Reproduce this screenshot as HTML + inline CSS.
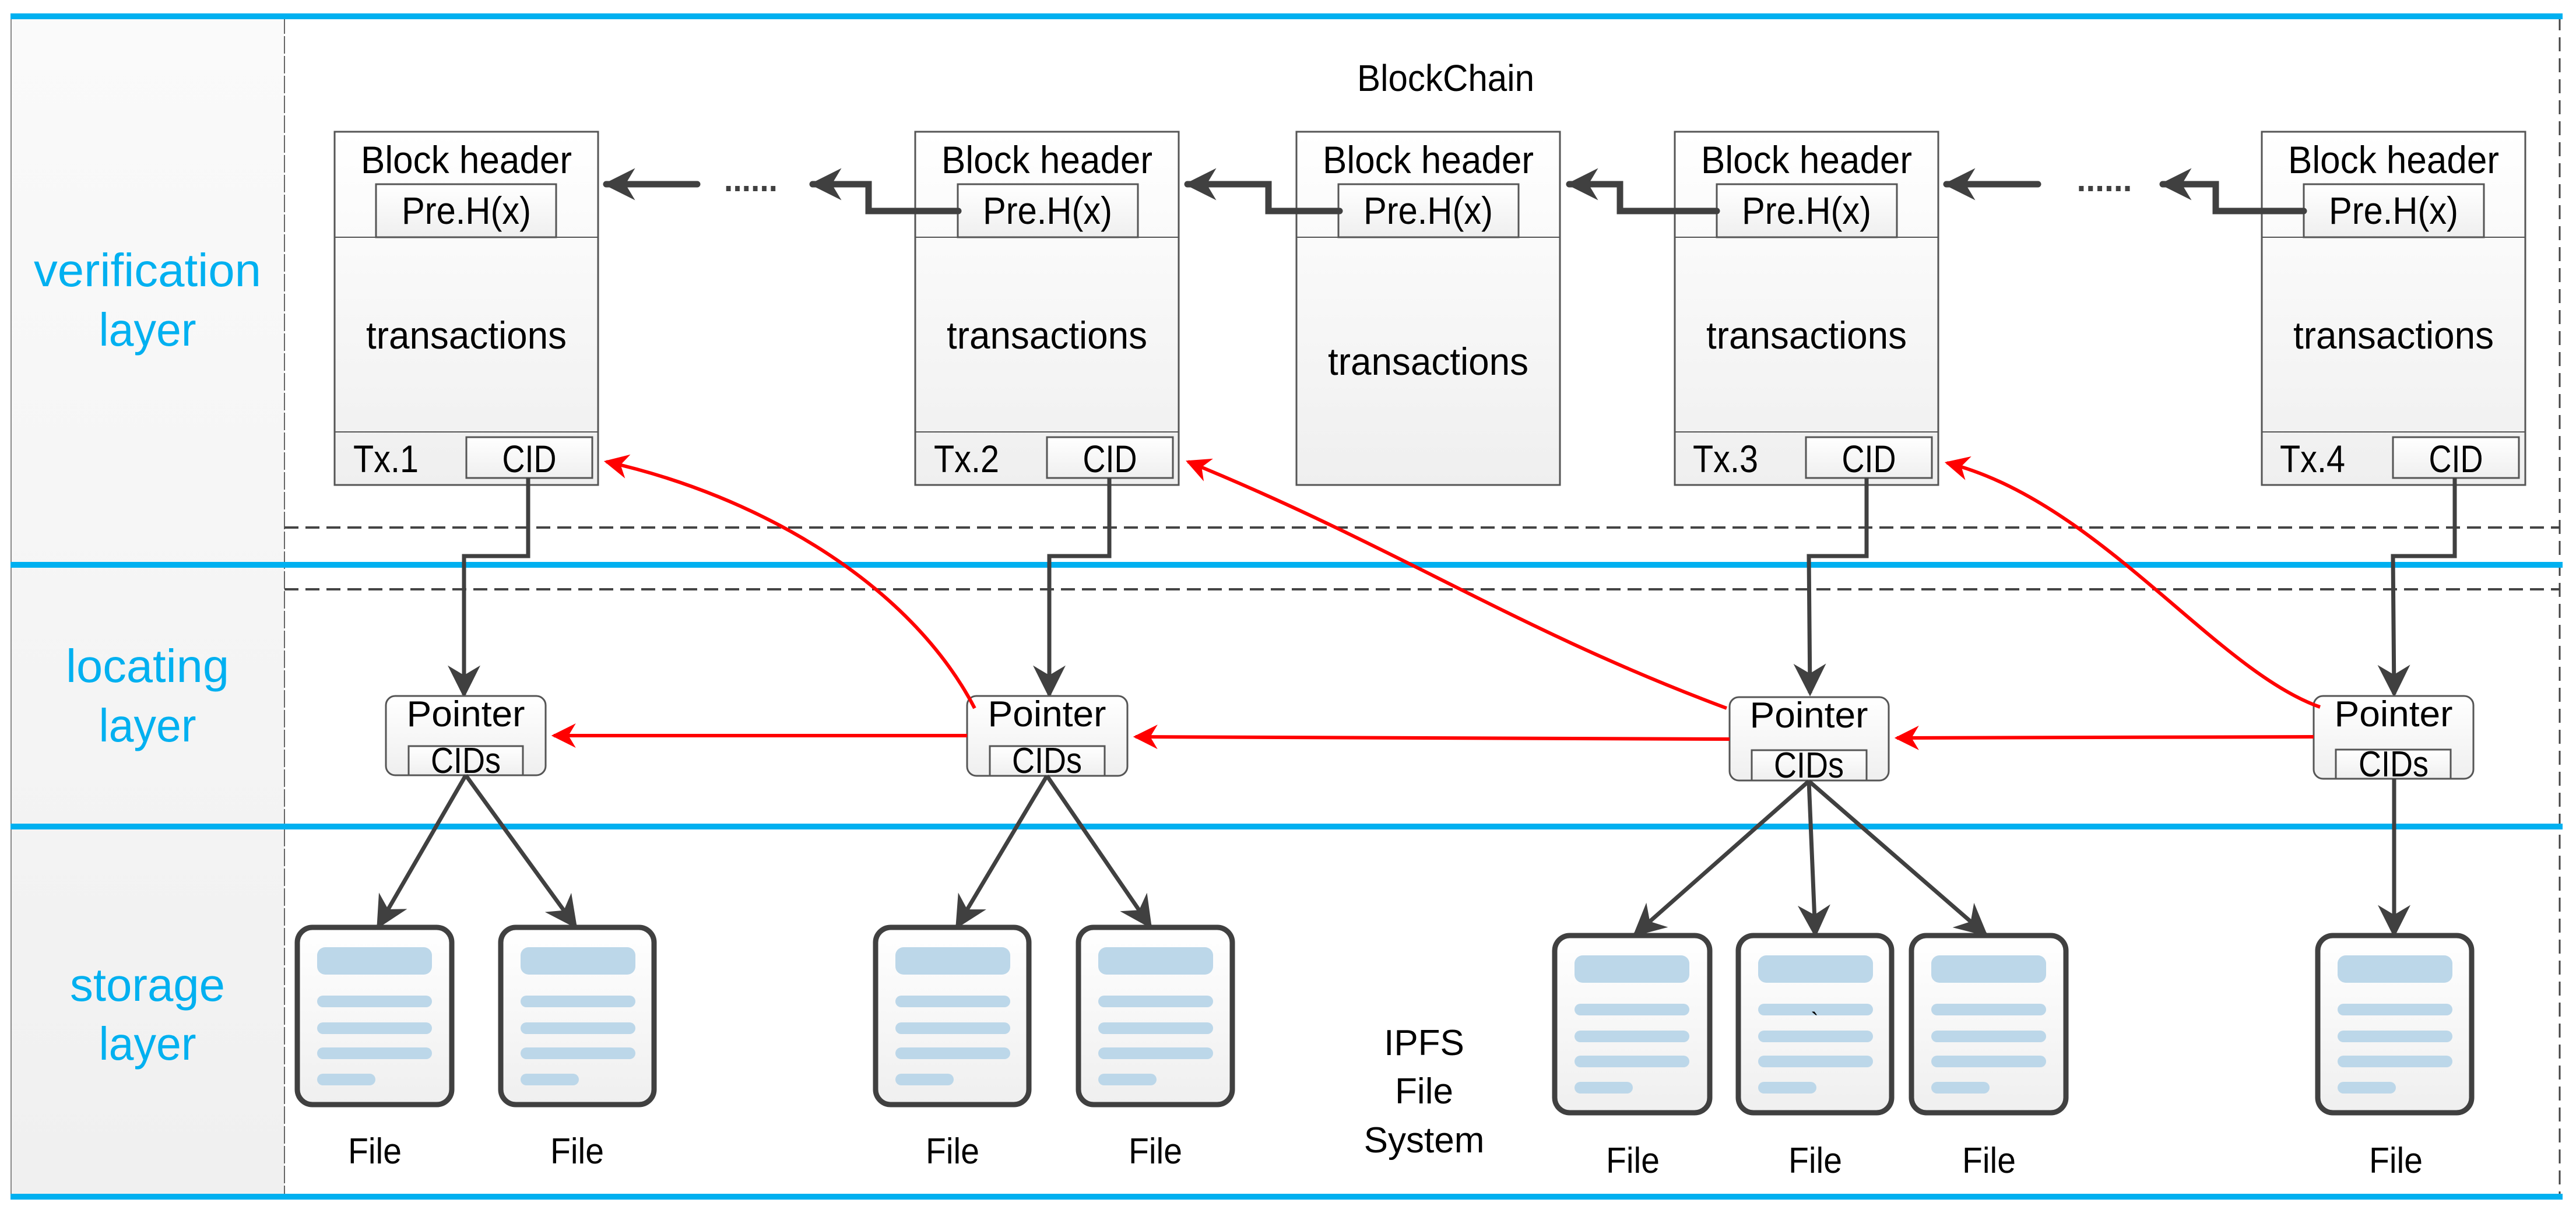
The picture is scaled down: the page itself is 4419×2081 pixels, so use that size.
<!DOCTYPE html>
<html><head><meta charset="utf-8"><style>
html,body{margin:0;padding:0;background:#fff}
svg{display:block}
text{font-family:"Liberation Sans",sans-serif}
</style></head><body>
<svg width="4419" height="2081" viewBox="0 0 4419 2081" xmlns="http://www.w3.org/2000/svg">
<defs>
<linearGradient id="g" x1="0" y1="0" x2="0" y2="1"><stop offset="0" stop-color="#ffffff"/><stop offset="1" stop-color="#efefef"/></linearGradient>
<linearGradient id="lc" x1="0" y1="0" x2="0" y2="1"><stop offset="0" stop-color="#fafafa"/><stop offset="1" stop-color="#f0f0f0"/></linearGradient>
<marker id="ad" viewBox="0 0 10 10" refX="9" refY="5" markerWidth="5" markerHeight="5" orient="auto" markerUnits="strokeWidth"><path d="M0,0 L10,5 L0,10 L3,5 z" fill="#404040"/></marker>
<marker id="ad2" viewBox="0 0 10 10" refX="9" refY="5" markerWidth="8" markerHeight="8" orient="auto" markerUnits="strokeWidth"><path d="M0,0 L10,5 L0,10 L3,5 z" fill="#404040"/></marker>
<marker id="ar" viewBox="0 0 10 10" refX="9" refY="5" markerWidth="7" markerHeight="7" orient="auto" markerUnits="strokeWidth"><path d="M0,0 L10,5 L0,10 L3,5 z" fill="#ff0000"/></marker>
</defs>

<rect x="18" y="28" width="470" height="2023" fill="url(#lc)"/>
<line x1="19" y1="28" x2="19" y2="2051" stroke="#888" stroke-width="2"/>
<line x1="488" y1="28" x2="488" y2="2051" stroke="#666" stroke-width="2" stroke-dasharray="30,4"/>
<line x1="4391" y1="28" x2="4391" y2="2051" stroke="#444" stroke-width="3" stroke-dasharray="24,12"/>
<line x1="488" y1="905" x2="4391" y2="905" stroke="#444" stroke-width="4" stroke-dasharray="24,12"/>
<line x1="488" y1="1011" x2="4391" y2="1011" stroke="#444" stroke-width="4" stroke-dasharray="24,12"/>

<g fill="#00b0f0" font-size="80" text-anchor="middle">
<text x="253" y="491" textLength="390" lengthAdjust="spacingAndGlyphs">verification</text>
<text x="253" y="593" textLength="167" lengthAdjust="spacingAndGlyphs">layer</text>
<text x="253" y="1170" textLength="280" lengthAdjust="spacingAndGlyphs">locating</text>
<text x="253" y="1272" textLength="167" lengthAdjust="spacingAndGlyphs">layer</text>
<text x="253" y="1717" textLength="266" lengthAdjust="spacingAndGlyphs">storage</text>
<text x="253" y="1818" textLength="167" lengthAdjust="spacingAndGlyphs">layer</text>
</g>

<text x="2480" y="156" font-size="64" text-anchor="middle" textLength="304" lengthAdjust="spacingAndGlyphs">BlockChain</text>

<g stroke="#555" stroke-width="3" fill="url(#g)">
<rect x="574" y="226" width="452" height="606"/>
<rect x="1570" y="226" width="452" height="606"/>
<rect x="2224" y="226" width="452" height="606"/>
<rect x="2873" y="226" width="452" height="606"/>
<rect x="3880" y="226" width="452" height="606"/>
</g>
<g stroke="#555" stroke-width="2" fill="none">
<line x1="574" y1="407" x2="1026" y2="407"/><line x1="574" y1="741" x2="1026" y2="741"/>
<line x1="1570" y1="407" x2="2022" y2="407"/><line x1="1570" y1="741" x2="2022" y2="741"/>
<line x1="2224" y1="407" x2="2676" y2="407"/>
<line x1="2873" y1="407" x2="3325" y2="407"/><line x1="2873" y1="741" x2="3325" y2="741"/>
<line x1="3880" y1="407" x2="4332" y2="407"/><line x1="3880" y1="741" x2="4332" y2="741"/>
</g>
<g stroke="#555" stroke-width="3" fill="url(#g)">
<rect x="645" y="316" width="309" height="91"/>
<rect x="1643" y="316" width="309" height="91"/>
<rect x="2296" y="316" width="309" height="91"/>
<rect x="2945" y="316" width="309" height="91"/>
<rect x="3952" y="316" width="309" height="91"/>
<rect x="800" y="750" width="216" height="70"/>
<rect x="1796" y="750" width="216" height="70"/>
<rect x="3098" y="750" width="216" height="70"/>
<rect x="4105" y="750" width="216" height="70"/>
</g>
<g font-size="66" text-anchor="middle" fill="#000">
<text x="800" y="297" textLength="362" lengthAdjust="spacingAndGlyphs">Block header</text>
<text x="1796" y="297" textLength="362" lengthAdjust="spacingAndGlyphs">Block header</text>
<text x="2450" y="297" textLength="362" lengthAdjust="spacingAndGlyphs">Block header</text>
<text x="3099" y="297" textLength="362" lengthAdjust="spacingAndGlyphs">Block header</text>
<text x="4106" y="297" textLength="362" lengthAdjust="spacingAndGlyphs">Block header</text>
<text x="800" y="384" textLength="222" lengthAdjust="spacingAndGlyphs">Pre.H(x)</text>
<text x="1797" y="384" textLength="222" lengthAdjust="spacingAndGlyphs">Pre.H(x)</text>
<text x="2450" y="384" textLength="222" lengthAdjust="spacingAndGlyphs">Pre.H(x)</text>
<text x="3099" y="384" textLength="222" lengthAdjust="spacingAndGlyphs">Pre.H(x)</text>
<text x="4106" y="384" textLength="222" lengthAdjust="spacingAndGlyphs">Pre.H(x)</text>
<text x="800" y="598" textLength="344" lengthAdjust="spacingAndGlyphs">transactions</text>
<text x="1796" y="598" textLength="344" lengthAdjust="spacingAndGlyphs">transactions</text>
<text x="2450" y="643" textLength="344" lengthAdjust="spacingAndGlyphs">transactions</text>
<text x="3099" y="598" textLength="344" lengthAdjust="spacingAndGlyphs">transactions</text>
<text x="4106" y="598" textLength="344" lengthAdjust="spacingAndGlyphs">transactions</text>
<text x="908" y="810" textLength="93" lengthAdjust="spacingAndGlyphs">CID</text>
<text x="1904" y="810" textLength="93" lengthAdjust="spacingAndGlyphs">CID</text>
<text x="3206" y="810" textLength="93" lengthAdjust="spacingAndGlyphs">CID</text>
<text x="4213" y="810" textLength="93" lengthAdjust="spacingAndGlyphs">CID</text>
<text x="662" y="810" textLength="112" lengthAdjust="spacingAndGlyphs">Tx.1</text>
<text x="1658" y="810" textLength="112" lengthAdjust="spacingAndGlyphs">Tx.2</text>
<text x="2960" y="810" textLength="112" lengthAdjust="spacingAndGlyphs">Tx.3</text>
<text x="3967" y="810" textLength="112" lengthAdjust="spacingAndGlyphs">Tx.4</text>
</g>

<g stroke="#404040" stroke-width="11" fill="none" stroke-linecap="round" stroke-linejoin="miter">
<path d="M1196,316 L1040,316" marker-end="url(#ad)"/>
<path d="M1644,362 L1490,362 L1490,316 L1394,316" marker-end="url(#ad)"/>
<path d="M2298,362 L2176,362 L2176,316 L2037,316" marker-end="url(#ad)"/>
<path d="M2945,362 L2779,362 L2779,316 L2692,316" marker-end="url(#ad)"/>
<path d="M3496,316 L3339,316" marker-end="url(#ad)"/>
<path d="M3952,362 L3801,362 L3801,316 L3710,316" marker-end="url(#ad)"/>
</g>
<g fill="#404040">
<text x="1288" y="328" font-size="60" text-anchor="middle" font-weight="bold" textLength="92" lengthAdjust="spacingAndGlyphs">......</text>
<text x="3610" y="328" font-size="60" text-anchor="middle" font-weight="bold" textLength="95" lengthAdjust="spacingAndGlyphs">......</text>
</g>

<g stroke="#00b0f0" stroke-width="10">
<line x1="18" y1="28" x2="4396" y2="28"/>
<line x1="18" y1="969" x2="4396" y2="969"/>
<line x1="18" y1="1418" x2="4396" y2="1418"/>
<line x1="18" y1="2053" x2="4396" y2="2053"/>
</g>

<g stroke="#404040" stroke-width="7" fill="none">
<path d="M906,820 L906,954 L796,954 L796,1192" marker-end="url(#ad2)"/>
<path d="M1903,820 L1903,954 L1800,954 L1800,1192" marker-end="url(#ad2)"/>
<path d="M3202,820 L3202,954 L3103,954 L3105,1189" marker-end="url(#ad2)"/>
<path d="M4211,820 L4211,954 L4105,954 L4107,1191" marker-end="url(#ad2)"/>
</g>

<g stroke="#555" stroke-width="3" fill="url(#g)">
<rect x="662" y="1194" width="274" height="136" rx="16"/>
<rect x="1659" y="1194" width="275" height="137" rx="16"/>
<rect x="2967" y="1196" width="273" height="143" rx="16"/>
<rect x="3969" y="1194" width="274" height="142" rx="16"/>
<rect x="701" y="1280" width="196" height="50"/>
<rect x="1698" y="1280" width="197" height="51"/>
<rect x="3005" y="1287" width="197" height="52"/>
<rect x="4007" y="1286" width="197" height="50"/>
</g>
<g font-size="62" text-anchor="middle">
<text x="799" y="1246" textLength="203" lengthAdjust="spacingAndGlyphs">Pointer</text>
<text x="1796" y="1246" textLength="203" lengthAdjust="spacingAndGlyphs">Pointer</text>
<text x="3103" y="1248" textLength="203" lengthAdjust="spacingAndGlyphs">Pointer</text>
<text x="4106" y="1246" textLength="203" lengthAdjust="spacingAndGlyphs">Pointer</text>
<text x="799" y="1326" textLength="120" lengthAdjust="spacingAndGlyphs">CIDs</text>
<text x="1796" y="1326" textLength="120" lengthAdjust="spacingAndGlyphs">CIDs</text>
<text x="3103" y="1334" textLength="120" lengthAdjust="spacingAndGlyphs">CIDs</text>
<text x="4106" y="1332" textLength="120" lengthAdjust="spacingAndGlyphs">CIDs</text>
</g>

<g stroke="#ff0000" stroke-width="6" fill="none">
<path d="M1659,1262 L950,1262" marker-end="url(#ar)"/>
<path d="M2967,1268 L1948,1264" marker-end="url(#ar)"/>
<path d="M3969,1264 L3254,1266" marker-end="url(#ar)"/>
<path d="M1672,1215 C1560,1000 1300,850 1040,792" marker-end="url(#ar)"/>
<path d="M2962,1215 C2600,1080 2400,940 2038,792" marker-end="url(#ar)"/>
<path d="M3980,1213 C3800,1150 3600,860 3340,794" marker-end="url(#ar)"/>
</g>

<g stroke="#404040" stroke-width="7" fill="none">
<path d="M799,1330 L649,1589" marker-end="url(#ad2)"/>
<path d="M799,1330 L987,1589" marker-end="url(#ad2)"/>
<path d="M1796,1331 L1642,1589" marker-end="url(#ad2)"/>
<path d="M1796,1331 L1973,1589" marker-end="url(#ad2)"/>
<path d="M3103,1340 L2805,1603" marker-end="url(#ad2)"/>
<path d="M3103,1340 L3114,1603" marker-end="url(#ad2)"/>
<path d="M3103,1340 L3406,1603" marker-end="url(#ad2)"/>
<path d="M4107,1336 L4107,1603" marker-end="url(#ad2)"/>
</g>

<g>
<g transform="translate(510,1591)">
<rect x="0" y="0" width="265" height="304" rx="26" fill="url(#g)" stroke="#404040" stroke-width="9"/>
<g fill="#bcd7e9"><rect x="34" y="34" width="197" height="47" rx="14"/><rect x="34" y="117" width="197" height="20" rx="10"/><rect x="34" y="163" width="197" height="20" rx="10"/><rect x="34" y="206" width="197" height="20" rx="10"/><rect x="34" y="251" width="100" height="20" rx="10"/></g>
</g>
<g transform="translate(859,1591)">
<rect x="0" y="0" width="263" height="304" rx="26" fill="url(#g)" stroke="#404040" stroke-width="9"/>
<g fill="#bcd7e9"><rect x="34" y="34" width="197" height="47" rx="14"/><rect x="34" y="117" width="197" height="20" rx="10"/><rect x="34" y="163" width="197" height="20" rx="10"/><rect x="34" y="206" width="197" height="20" rx="10"/><rect x="34" y="251" width="100" height="20" rx="10"/></g>
</g>
<g transform="translate(1502,1591)">
<rect x="0" y="0" width="263" height="304" rx="26" fill="url(#g)" stroke="#404040" stroke-width="9"/>
<g fill="#bcd7e9"><rect x="34" y="34" width="197" height="47" rx="14"/><rect x="34" y="117" width="197" height="20" rx="10"/><rect x="34" y="163" width="197" height="20" rx="10"/><rect x="34" y="206" width="197" height="20" rx="10"/><rect x="34" y="251" width="100" height="20" rx="10"/></g>
</g>
<g transform="translate(1850,1591)">
<rect x="0" y="0" width="264" height="304" rx="26" fill="url(#g)" stroke="#404040" stroke-width="9"/>
<g fill="#bcd7e9"><rect x="34" y="34" width="197" height="47" rx="14"/><rect x="34" y="117" width="197" height="20" rx="10"/><rect x="34" y="163" width="197" height="20" rx="10"/><rect x="34" y="206" width="197" height="20" rx="10"/><rect x="34" y="251" width="100" height="20" rx="10"/></g>
</g>
<g transform="translate(2667,1605)">
<rect x="0" y="0" width="266" height="304" rx="26" fill="url(#g)" stroke="#404040" stroke-width="9"/>
<g fill="#bcd7e9"><rect x="34" y="34" width="197" height="47" rx="14"/><rect x="34" y="117" width="197" height="20" rx="10"/><rect x="34" y="163" width="197" height="20" rx="10"/><rect x="34" y="206" width="197" height="20" rx="10"/><rect x="34" y="251" width="100" height="20" rx="10"/></g>
</g>
<g transform="translate(2982,1605)">
<rect x="0" y="0" width="263" height="304" rx="26" fill="url(#g)" stroke="#404040" stroke-width="9"/>
<g fill="#bcd7e9"><rect x="34" y="34" width="197" height="47" rx="14"/><rect x="34" y="117" width="197" height="20" rx="10"/><rect x="34" y="163" width="197" height="20" rx="10"/><rect x="34" y="206" width="197" height="20" rx="10"/><rect x="34" y="251" width="100" height="20" rx="10"/></g>
<text x="131" y="160" font-size="40" text-anchor="middle">`</text>
</g>
<g transform="translate(3279,1605)">
<rect x="0" y="0" width="265" height="304" rx="26" fill="url(#g)" stroke="#404040" stroke-width="9"/>
<g fill="#bcd7e9"><rect x="34" y="34" width="197" height="47" rx="14"/><rect x="34" y="117" width="197" height="20" rx="10"/><rect x="34" y="163" width="197" height="20" rx="10"/><rect x="34" y="206" width="197" height="20" rx="10"/><rect x="34" y="251" width="100" height="20" rx="10"/></g>
</g>
<g transform="translate(3976,1605)">
<rect x="0" y="0" width="264" height="304" rx="26" fill="url(#g)" stroke="#404040" stroke-width="9"/>
<g fill="#bcd7e9"><rect x="34" y="34" width="197" height="47" rx="14"/><rect x="34" y="117" width="197" height="20" rx="10"/><rect x="34" y="163" width="197" height="20" rx="10"/><rect x="34" y="206" width="197" height="20" rx="10"/><rect x="34" y="251" width="100" height="20" rx="10"/></g>
</g>
</g>
<g font-size="62" text-anchor="middle">
<text x="643" y="1996" textLength="92" lengthAdjust="spacingAndGlyphs">File</text>
<text x="990" y="1996" textLength="92" lengthAdjust="spacingAndGlyphs">File</text>
<text x="1634" y="1996" textLength="92" lengthAdjust="spacingAndGlyphs">File</text>
<text x="1982" y="1996" textLength="92" lengthAdjust="spacingAndGlyphs">File</text>
<text x="2801" y="2012" textLength="92" lengthAdjust="spacingAndGlyphs">File</text>
<text x="3114" y="2012" textLength="92" lengthAdjust="spacingAndGlyphs">File</text>
<text x="3412" y="2012" textLength="92" lengthAdjust="spacingAndGlyphs">File</text>
<text x="4110" y="2012" textLength="92" lengthAdjust="spacingAndGlyphs">File</text>
<text x="2443" y="1810" font-size="62">IPFS</text>
<text x="2443" y="1893" font-size="62">File</text>
<text x="2443" y="1977" font-size="62">System</text>
</g>
</svg>
</body></html>
